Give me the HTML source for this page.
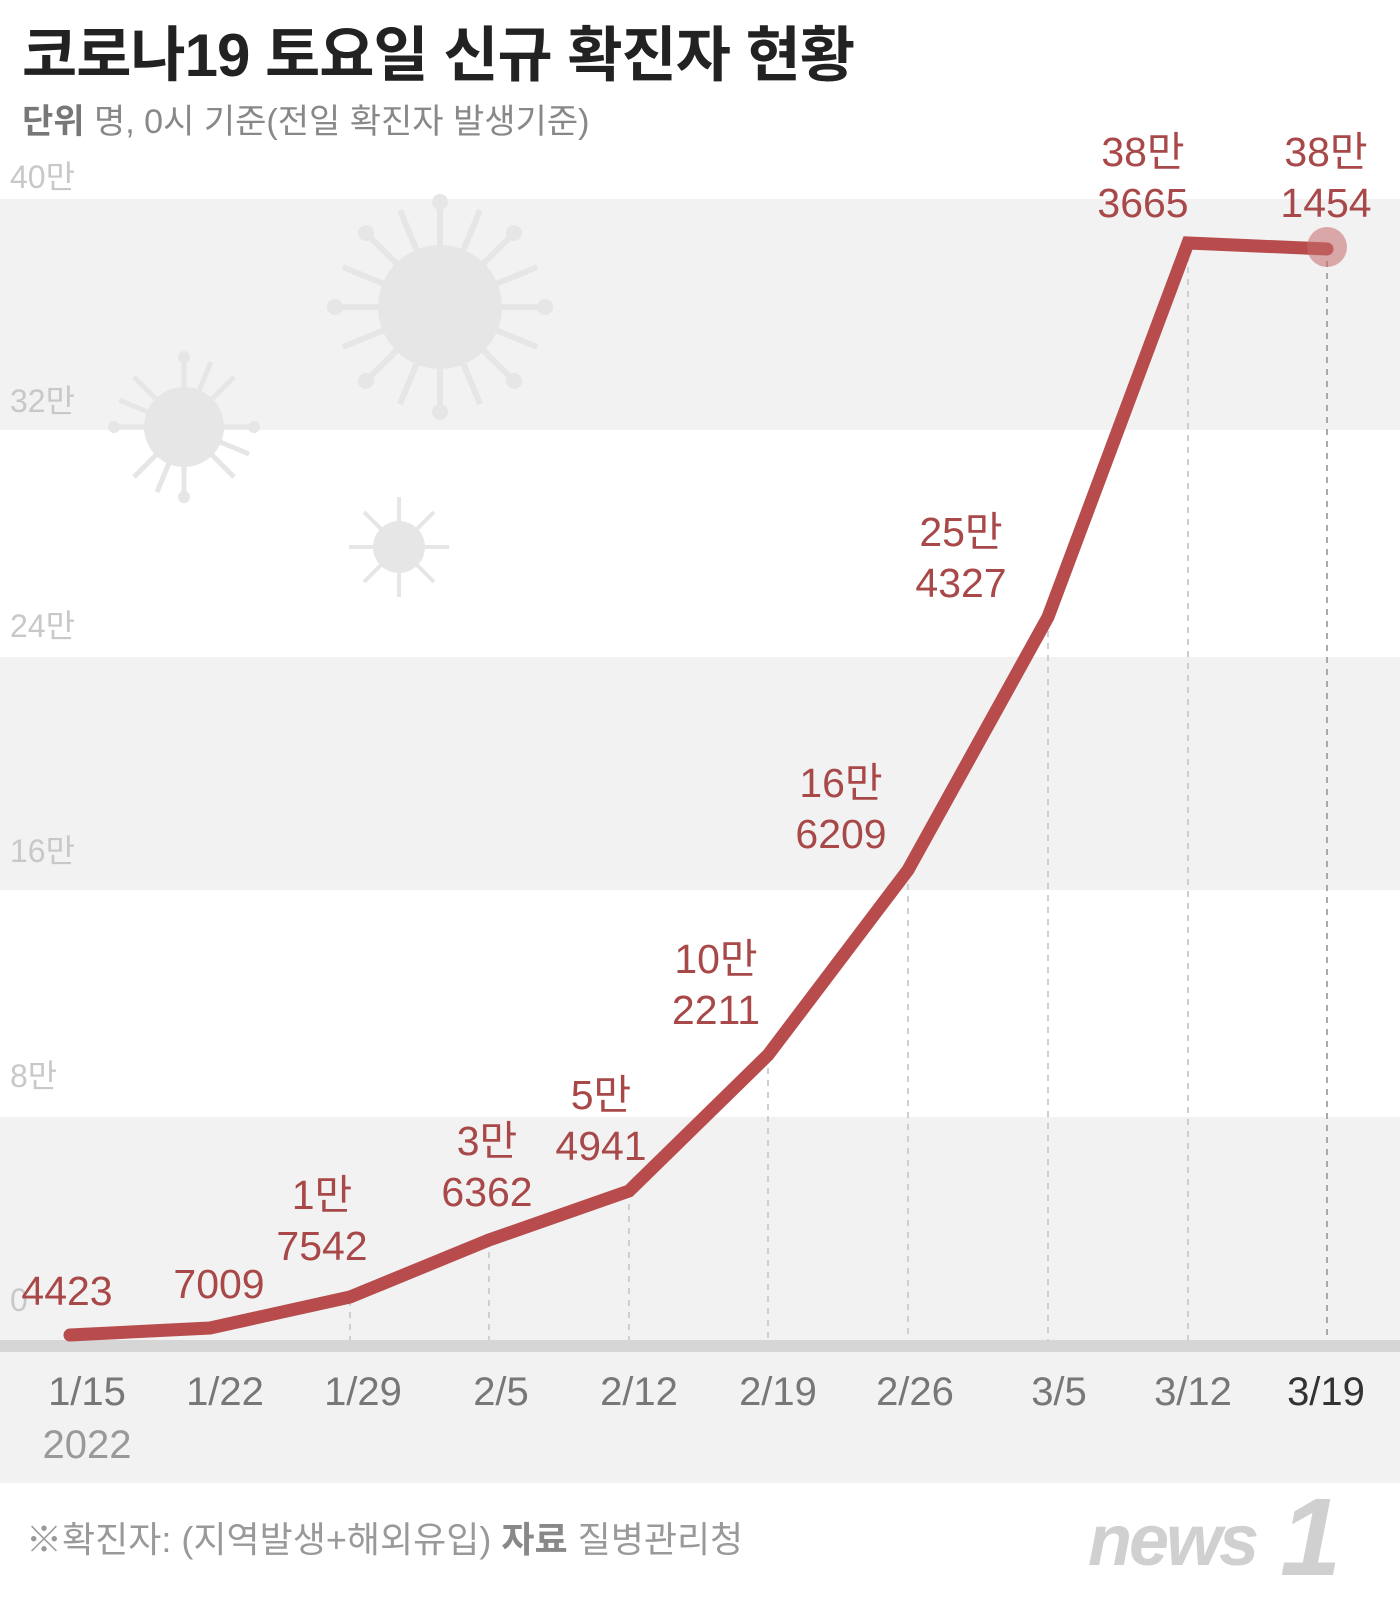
<!DOCTYPE html>
<html><head><meta charset="utf-8"><style>
html,body{margin:0;padding:0;background:#fff;}
svg{display:block;}
text{font-family:"Liberation Sans","Noto Sans CJK KR",sans-serif;}
</style></head><body>
<svg width="1400" height="1603" viewBox="0 0 1400 1603" xmlns="http://www.w3.org/2000/svg">
<rect width="1400" height="1603" fill="#fff"/>
<rect x="0" y="199" width="1400" height="231" fill="#f2f2f2"/>
<rect x="0" y="657" width="1400" height="233" fill="#f2f2f2"/>
<rect x="0" y="1117" width="1400" height="223" fill="#f2f2f2"/>
<rect x="0" y="1352" width="1400" height="131" fill="#f2f2f2"/>
<rect x="0" y="1340" width="1400" height="12" fill="#d6d6d6"/>
<g fill="#e6e6e6" stroke="#e6e6e6">
 <g transform="translate(440,307)">
  <circle r="62" stroke="none"/>
  <g stroke-width="6">
   <line x1="0" y1="0" x2="0" y2="-105"/><line x1="0" y1="0" x2="0" y2="105"/>
   <line x1="0" y1="0" x2="-105" y2="0"/><line x1="0" y1="0" x2="105" y2="0"/>
   <line x1="0" y1="0" x2="74" y2="74"/><line x1="0" y1="0" x2="-74" y2="-74"/>
   <line x1="0" y1="0" x2="74" y2="-74"/><line x1="0" y1="0" x2="-74" y2="74"/>
   <line x1="0" y1="0" x2="40" y2="-97"/><line x1="0" y1="0" x2="-40" y2="97"/>
   <line x1="0" y1="0" x2="97" y2="40"/><line x1="0" y1="0" x2="-97" y2="-40"/>
   <line x1="0" y1="0" x2="-40" y2="-97"/><line x1="0" y1="0" x2="40" y2="97"/>
   <line x1="0" y1="0" x2="97" y2="-40"/><line x1="0" y1="0" x2="-97" y2="40"/>
  </g>
  <circle cx="0" cy="-105" r="8" stroke="none"/><circle cx="0" cy="105" r="8" stroke="none"/>
  <circle cx="-105" cy="0" r="8" stroke="none"/><circle cx="105" cy="0" r="8" stroke="none"/>
  <circle cx="74" cy="74" r="8" stroke="none"/><circle cx="-74" cy="-74" r="8" stroke="none"/>
  <circle cx="74" cy="-74" r="8" stroke="none"/><circle cx="-74" cy="74" r="8" stroke="none"/>
 </g>
 <g transform="translate(184,427)">
  <circle r="40" stroke="none"/>
  <g stroke-width="5">
   <line x2="0" y2="-70"/><line x2="0" y2="70"/><line x2="-70" y2="0"/><line x2="70" y2="0"/>
   <line x2="50" y2="50"/><line x2="-50" y2="-50"/><line x2="50" y2="-50"/><line x2="-50" y2="50"/>
   <line x2="27" y2="-65"/><line x2="-27" y2="65"/><line x2="65" y2="27"/><line x2="-65" y2="-27"/>
  </g>
  <circle cx="0" cy="-70" r="6" stroke="none"/><circle cx="0" cy="70" r="6" stroke="none"/>
  <circle cx="-70" cy="0" r="6" stroke="none"/><circle cx="70" cy="0" r="6" stroke="none"/>
 </g>
 <g transform="translate(399,547)">
  <circle r="26" stroke="none"/>
  <g stroke-width="4">
   <line x2="0" y2="-50"/><line x2="0" y2="50"/><line x2="-50" y2="0"/><line x2="50" y2="0"/>
   <line x2="35" y2="35"/><line x2="-35" y2="-35"/><line x2="35" y2="-35"/><line x2="-35" y2="35"/>
  </g>
 </g>
</g>
<text x="22" y="76" font-size="60" font-weight="bold" fill="#222" letter-spacing="-1">코로나19 토요일 신규 확진자 현황</text>
<text x="22" y="133" font-size="34" fill="#888"><tspan font-weight="bold" fill="#777">단위</tspan>  명, 0시 기준(전일 확진자 발생기준)</text>
<g font-size="32" fill="#c8c8c8">
 <text x="10" y="188">40만</text>
 <text x="10" y="412">32만</text>
 <text x="10" y="637">24만</text>
 <text x="10" y="862">16만</text>
 <text x="10" y="1087">8만</text>
 <text x="10" y="1311">0</text>
</g>
<g stroke="#cfcfcf" stroke-width="2" stroke-dasharray="6,6">
 <line x1="350" y1="1300" x2="350" y2="1340"/>
 <line x1="489" y1="1240" x2="489" y2="1340"/>
 <line x1="629" y1="1192" x2="629" y2="1340"/>
 <line x1="768" y1="1056" x2="768" y2="1340"/>
 <line x1="908" y1="872" x2="908" y2="1340"/>
 <line x1="1048" y1="619" x2="1048" y2="1340"/>
 <line x1="1188" y1="243" x2="1188" y2="1340"/>
 <line x1="1327" y1="249" x2="1327" y2="1340" stroke="#aaa"/>
</g>
<polyline fill="none" stroke="#b84c4c" stroke-width="13" stroke-linejoin="miter" stroke-linecap="round"
 points="70,1335 210,1328 350,1297 489,1240 629,1191 768,1055 908,870 1048,617 1188,243 1327,249"/>
<circle cx="1327" cy="247" r="20" fill="#c46a6a" opacity="0.55"/>
<g font-size="41" fill="#a84848" text-anchor="middle">
 <text x="67" y="1305">4423</text>
 <text x="219" y="1298">7009</text>
 <text x="322" y="1209">1만</text><text x="322" y="1260">7542</text>
 <text x="487" y="1155">3만</text><text x="487" y="1206">6362</text>
 <text x="601" y="1109">5만</text><text x="601" y="1160">4941</text>
 <text x="716" y="973">10만</text><text x="716" y="1024">2211</text>
 <text x="841" y="797">16만</text><text x="841" y="848">6209</text>
 <text x="961" y="546">25만</text><text x="961" y="597">4327</text>
 <text x="1143" y="166">38만</text><text x="1143" y="217">3665</text>
 <text x="1326" y="166">38만</text><text x="1326" y="217">1454</text>
</g>
<g font-size="40" fill="#777" text-anchor="middle">
 <text x="87" y="1405">1/15</text>
 <text x="225" y="1405">1/22</text>
 <text x="363" y="1405">1/29</text>
 <text x="501" y="1405">2/5</text>
 <text x="639" y="1405">2/12</text>
 <text x="778" y="1405">2/19</text>
 <text x="915" y="1405">2/26</text>
 <text x="1059" y="1405">3/5</text>
 <text x="1193" y="1405">3/12</text>
 <text x="1326" y="1405" fill="#333">3/19</text>
 <text x="87" y="1458" fill="#999">2022</text>
</g>
<text x="26" y="1552" font-size="36" fill="#999">※확진자: (지역발생+해외유입)  <tspan font-weight="bold" fill="#888">자료</tspan>  질병관리청</text>
<text x="1088" y="1565" font-size="72" font-weight="bold" font-style="italic" fill="#d0d0d0" letter-spacing="-3">news</text>
<text x="1280" y="1575" font-size="110" font-weight="bold" font-style="italic" fill="#d0d0d0">1</text>
</svg>
</body></html>
